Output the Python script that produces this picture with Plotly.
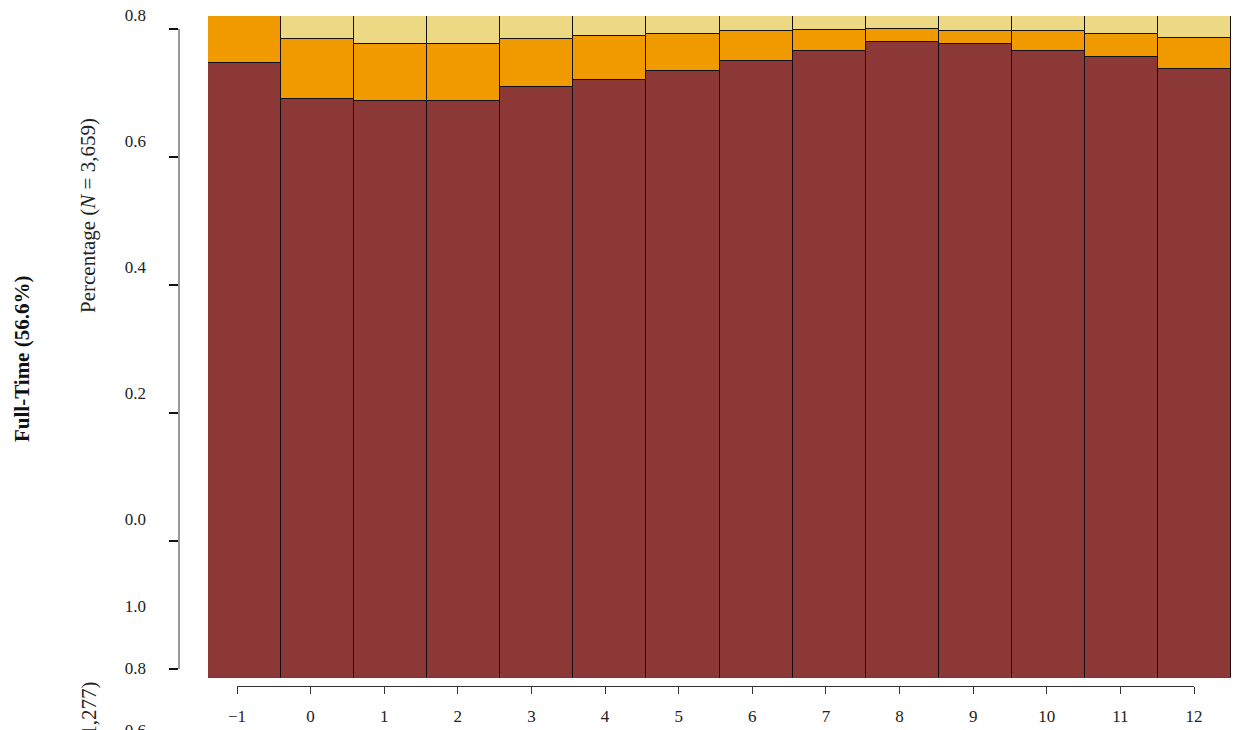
import plotly.graph_objects as go

# ---- data ----
years = [-1, 0, 1, 2, 3, 4, 5, 6, 7, 8, 9, 10, 11, 12]
share_red = [0.929, 0.874, 0.871, 0.871, 0.892, 0.904, 0.917, 0.932, 0.947, 0.961, 0.958, 0.947, 0.938, 0.920]
share_orange = [0.071, 0.091, 0.087, 0.087, 0.073, 0.066, 0.056, 0.046, 0.032, 0.020, 0.020, 0.031, 0.035, 0.047]
share_yellow = [0.000, 0.035, 0.042, 0.042, 0.035, 0.030, 0.027, 0.022, 0.021, 0.019, 0.022, 0.022, 0.027, 0.033]
x_tick_labels = ["\u22121", "0", "1", "2", "3", "4", "5", "6", "7", "8", "9", "10", "11", "12"]
upper_y_labels = ["0.0", "0.2", "0.4", "0.6", "0.8"]
upper_y_vals = [0.0, 0.2, 0.4, 0.6, 0.8]
lower_y_labels = ["0.6", "0.8", "1.0"]
lower_y_vals = [0.6, 0.8, 1.0]
axis_ticks = [0, 1, 2, 3, 4, 5]

W, H = 1246, 730
OFF = 8  # page body margin in the browser


def px_x(p):
    return (p - OFF) / W


def px_y(p):
    return (H - (p - OFF)) / H


FONT = "Liberation Serif"
RED, ORANGE, YELLOW = "#8B3836", "#F09A00", "#EDD883"

fig = go.Figure()
for vals, col in [(share_red, RED), (share_orange, ORANGE), (share_yellow, YELLOW)]:
    fig.add_trace(go.Bar(
        x=years, y=vals, width=1.0, marker=dict(color=col, line=dict(color="#111111", width=1.2)),
        showlegend=False, hoverinfo="skip"))

# invisible helper traces so that the free axes render
fig.add_trace(go.Scatter(x=years, y=[0] * len(years), xaxis="x2", yaxis="y", mode="markers",
                         marker=dict(opacity=0), showlegend=False, hoverinfo="skip"))
fig.add_trace(go.Scatter(x=[0] * len(axis_ticks), y=axis_ticks, xaxis="x", yaxis="y2", mode="markers",
                         marker=dict(opacity=0), showlegend=False, hoverinfo="skip"))
fig.add_trace(go.Scatter(x=[0] * len(upper_y_vals), y=upper_y_vals, xaxis="x", yaxis="y3", mode="markers",
                         marker=dict(opacity=0), showlegend=False, hoverinfo="skip"))
fig.add_trace(go.Scatter(x=[0] * len(lower_y_vals), y=lower_y_vals, xaxis="x", yaxis="y4", mode="markers",
                         marker=dict(opacity=0), showlegend=False, hoverinfo="skip"))

tickfont = dict(family=FONT, size=17, color="#222222")

fig.update_layout(
    width=W, height=H, margin=dict(l=0, r=0, t=0, b=0, autoexpand=False),
    paper_bgcolor="white", plot_bgcolor="rgba(0,0,0,0)",
    barmode="stack", bargap=0,
    xaxis=dict(domain=[px_x(208), px_x(1231)], range=[-1.5, 12.5], visible=False),
    yaxis=dict(domain=[px_y(677.7), px_y(16)], range=[0, 1], visible=False),
    xaxis2=dict(domain=[px_x(237), px_x(1194)], range=[-1, 12], anchor="free",
                position=px_y(685.5), side="bottom",
                tickvals=years, ticktext=x_tick_labels, ticks="outside", ticklen=7,
                tickcolor="#333333", showline=True, linecolor="#333333", linewidth=1,
                showgrid=False, zeroline=False, tickfont=tickfont, ticklabelstandoff=8),
    yaxis2=dict(domain=[px_y(668.7), px_y(29.3)], range=[0, 5], anchor="free",
                position=px_x(179), side="left", tickvals=axis_ticks, showticklabels=False,
                ticks="outside", ticklen=9, tickcolor="#111111", tickwidth=1.5,
                showline=True, linecolor="#999999", linewidth=1.5, showgrid=False, zeroline=False),
    yaxis3=dict(domain=[px_y(519), px_y(15)], range=[0, 0.8], anchor="free",
                position=px_x(146), side="left", tickvals=upper_y_vals, ticktext=upper_y_labels,
                ticks="", showline=False, showgrid=False, zeroline=False, tickfont=tickfont,
                ticklabeloverflow="allow"),
    yaxis4=dict(domain=[px_y(730), px_y(606)], range=[0.6, 1.0], anchor="free",
                position=px_x(146), side="left", tickvals=lower_y_vals, ticktext=lower_y_labels,
                ticks="", showline=False, showgrid=False, zeroline=False, tickfont=tickfont,
                ticklabeloverflow="allow"),
    annotations=[
        dict(text="Percentage (<i>N</i> = 3,659)", x=px_x(88), y=px_y(215), xref="paper", yref="paper",
             textangle=-90, showarrow=False, font=dict(family=FONT, size=21, color="#222222"),
             xanchor="center", yanchor="middle"),
        dict(text="<b>Full-Time (56.6%)</b>", x=px_x(22), y=px_y(359), xref="paper", yref="paper",
             textangle=-90, showarrow=False, font=dict(family=FONT, size=21, color="#111111"),
             xanchor="center", yanchor="middle"),
        dict(text="Percentage (<i>N</i> = 1,277)", x=px_x(88), y=px_y(679), xref="paper", yref="paper",
             textangle=-90, showarrow=False, font=dict(family=FONT, size=21, color="#222222"),
             xanchor="center", yanchor="top"),
    ],
)

fig.write_html("out.html")
